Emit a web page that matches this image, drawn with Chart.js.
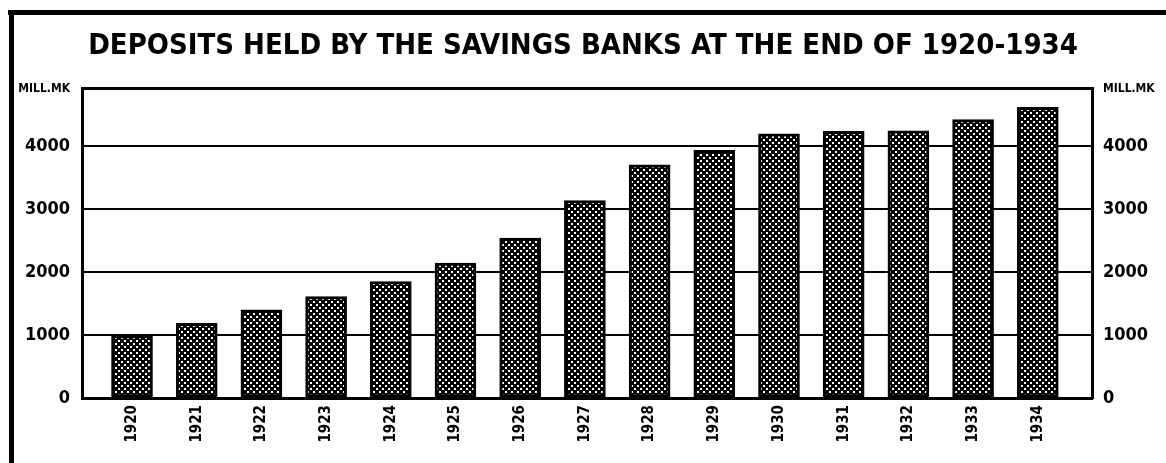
<!DOCTYPE html>
<html>
<head>
<meta charset="utf-8">
<script src="https://cdn.jsdelivr.net/npm/chart.js@4/dist/chart.umd.min.js"></script>
<style>
html,body{margin:0;padding:0;background:#fff;}
#wrap{width:1166px;height:463px;position:relative;}
</style>
</head>
<body>
<div id="wrap"><canvas id="c" width="1166" height="463"></canvas></div>
<script>
const TITLE = 'DEPOSITS HELD BY THE SAVINGS BANKS AT THE END OF 1920-1934';
const UNIT = 'MILL.MK';
const YEARS = [1920,1921,1922,1923,1924,1925,1926,1927,1928,1929,1930,1931,1932,1933,1934];
const DEPOSITS = [990,1185,1400,1610,1845,2140,2535,3130,3700,3930,4190,4230,4240,4415,4610];
const Y_TICKS = [0,1000,2000,3000,4000];
const Y_MAX = 4905;

const FONT = "'DejaVu Sans Condensed','Liberation Sans',sans-serif";

function makePattern(){
  const p = document.createElement('canvas');
  p.width = 6; p.height = 6;
  const g = p.getContext('2d');
  g.fillStyle = '#000'; g.fillRect(0,0,6,6);
  g.fillStyle = '#fff';
  g.fillRect(1,1,2,2);
  g.fillRect(4,4,2,2);
  return g.createPattern(p,'repeat');
}

const frame = {
  id:'frame',
  beforeDraw(chart){
    const ctx = chart.ctx;
    ctx.save();
    ctx.fillStyle = '#fff';
    ctx.fillRect(0,0,chart.width,chart.height);
    ctx.fillStyle = '#000';
    ctx.fillRect(8,10,chart.width-8,5);
    ctx.fillRect(9,10,5,chart.height-10);
    ctx.restore();
  }
};

function yTicks(scale){
  scale.ticks = Y_TICKS.map(v=>({value:v})).concat([{value:Y_MAX}]);
}
function yFont(ctx){
  if (ctx.tick && ctx.tick.value === Y_MAX) return {family:FONT, size:12, weight:'bold'};
  return {family:FONT, size:18, weight:'bold'};
}
function yLabel(v){ return v === Y_MAX ? UNIT : String(v); }

new Chart(document.getElementById('c'), {
  type:'bar',
  data:{
    datasets:[{
      data: YEARS.map((y,i)=>({x:y, y:DEPOSITS[i]})),
      backgroundColor: makePattern(),
      borderColor:'#000',
      borderWidth:3,
      borderSkipped:false,
      barThickness:41
    }]
  },
  plugins:[frame],
  options:{
    responsive:false,
    animation:false,
    layout:{padding:{left:0,right:0,top:0,bottom:0}},
    plugins:{
      legend:{display:false},
      tooltip:{enabled:false},
      title:{
        display:true,
        text:TITLE,
        color:'#000',
        font:{family:FONT, size:29, weight:'bold'},
        padding:{top:29,bottom:25}
      }
    },
    scales:{
      x:{
        type:'linear',
        offset:false,
        min:1919.227,
        max:1934.838,
        afterBuildTicks(s){ s.ticks = YEARS.map(v=>({value:v})); },
        afterFit(s){ s.height = 65; },
        grid:{display:false, drawTicks:false, offset:false},
        border:{display:true, color:'#000', width:3},
        ticks:{
          autoSkip:false,
          minRotation:90, maxRotation:90,
          padding:7,
          color:'#000',
          font:{family:FONT, size:15, weight:'bold'},
          callback:(v)=>String(v)
        }
      },
      y:{
        position:'left',
        min:0, max:Y_MAX,
        afterBuildTicks: yTicks,
        afterFit(s){ s.width = 82; },
        grid:{color:'#000', lineWidth:(c)=> (c.tick && c.tick.value===Y_MAX) ? 3 : 2, drawTicks:false},
        border:{display:true, color:'#000', width:3},
        ticks:{color:'#000', padding:12, font:yFont, callback:yLabel}
      },
      y2:{
        position:'right',
        min:0, max:Y_MAX,
        afterBuildTicks: yTicks,
        afterFit(s){ s.width = 74; },
        grid:{display:false, drawTicks:false},
        border:{display:true, color:'#000', width:3},
        ticks:{color:'#000', padding:11, font:yFont, callback:yLabel}
      }
    }
  }
});
</script>
</body>
</html>
